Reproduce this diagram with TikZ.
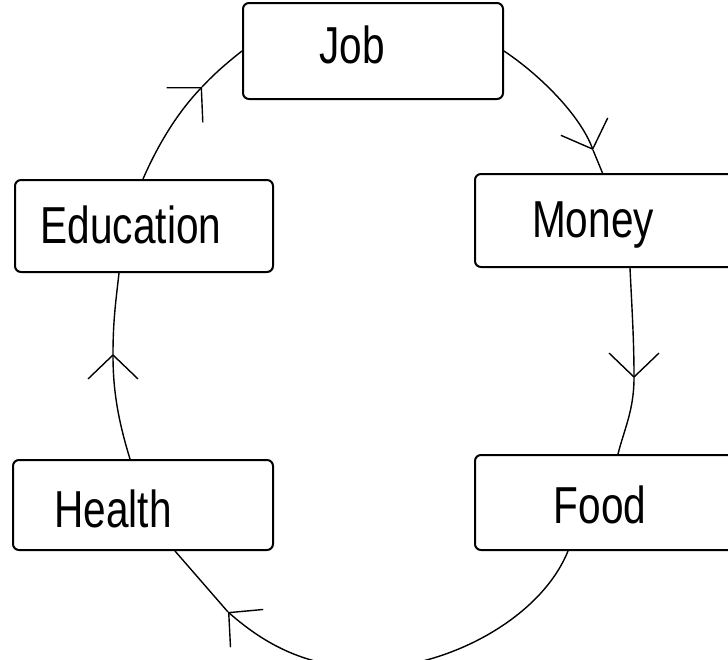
\documentclass[tikz,border=0pt]{standalone}
\usepackage{fontspec}
\newfontfamily\labfont{Liberation Sans}[FakeStretch=0.78]
\usetikzlibrary{arrows.meta,calc}
\begin{document}
\begin{tikzpicture}[x=1pt,y=-1pt,
  box/.style={draw,line width=2pt,rounded corners=6pt,inner sep=0pt},
  lab/.style={anchor=base,inner sep=0pt,font=\labfont\fontsize{52}{60}\selectfont},
  conn/.style={line width=1.4pt},
  head/.style={conn,-{Straight Barb[length=24pt,width=50pt,line width=1.4pt]}}]
\useasboundingbox (0,0) rectangle (728,659);
\begin{scope}
\clip (0,0) rectangle (728,659);
% boxes
\node[box,minimum width=260pt,minimum height=96pt] (job) at (373,51) {};
\node[box,minimum width=275pt,minimum height=93pt] (money) at (612.5,220.5) {};
\node[box,minimum width=258pt,minimum height=92pt] (edu) at (144,226) {};
\node[box,minimum width=260pt,minimum height=90pt] (health) at (143,505) {};
\node[box,minimum width=275pt,minimum height=95pt] (food) at (612.5,502.5) {};
% labels
\node[lab] (jobt) at (352,63) {Job};
\node[lab] (moneyt) at (593,237) {Money};
\node[lab] (edut) at (131,243) {Education};
\node[lab] (healtht) at (113,527) {Health};
\node[lab] (foodt) at (600,523) {Food};
% arrow tips
\coordinate (t1) at (593,150);
\coordinate (t2) at (634,378);
\coordinate (t3) at (228,612);
\coordinate (t4) at (113,354);
\coordinate (t5) at (202,87);
% Job -> Money
\draw[head] (job.east) .. controls (540,75) and (580,115) .. (t1);
\draw[conn] (t1) -- ($(money.north)+(-10,0)$);
% Money -> Food
\draw[head] ($(money.south)+(17.5,0)$) .. controls (632,310) and (634,340) .. (t2);
\draw[conn] (t2) .. controls (634,410) and (624,430) .. ($(food.north)+(5.5,0)$);
% Food -> Health
\draw[head] ($(food.south)+(-44.5,0)$) .. controls (540,620) and (445,668) .. (370,668)
  .. controls (300,668) and (258,638) .. (t3);
\draw[conn] (t3) -- ($(health.south)+(32,0)$);
% Health -> Education
\draw[head] ($(health.north)+(-13,0)$) .. controls (118,420) and (113,390) .. (t4);
\draw[conn] (t4) .. controls (113,320) and (116,300) .. ($(edu.south)+(-25,0)$);
% Education -> Job
\draw[head] ($(edu.north)+(-1,0)$) .. controls (160,140) and (180,110) .. (t5);
\draw[conn] (t5) .. controls (215,73) and (228,62) .. (job.west);
\end{scope}
\end{tikzpicture}
\end{document}
